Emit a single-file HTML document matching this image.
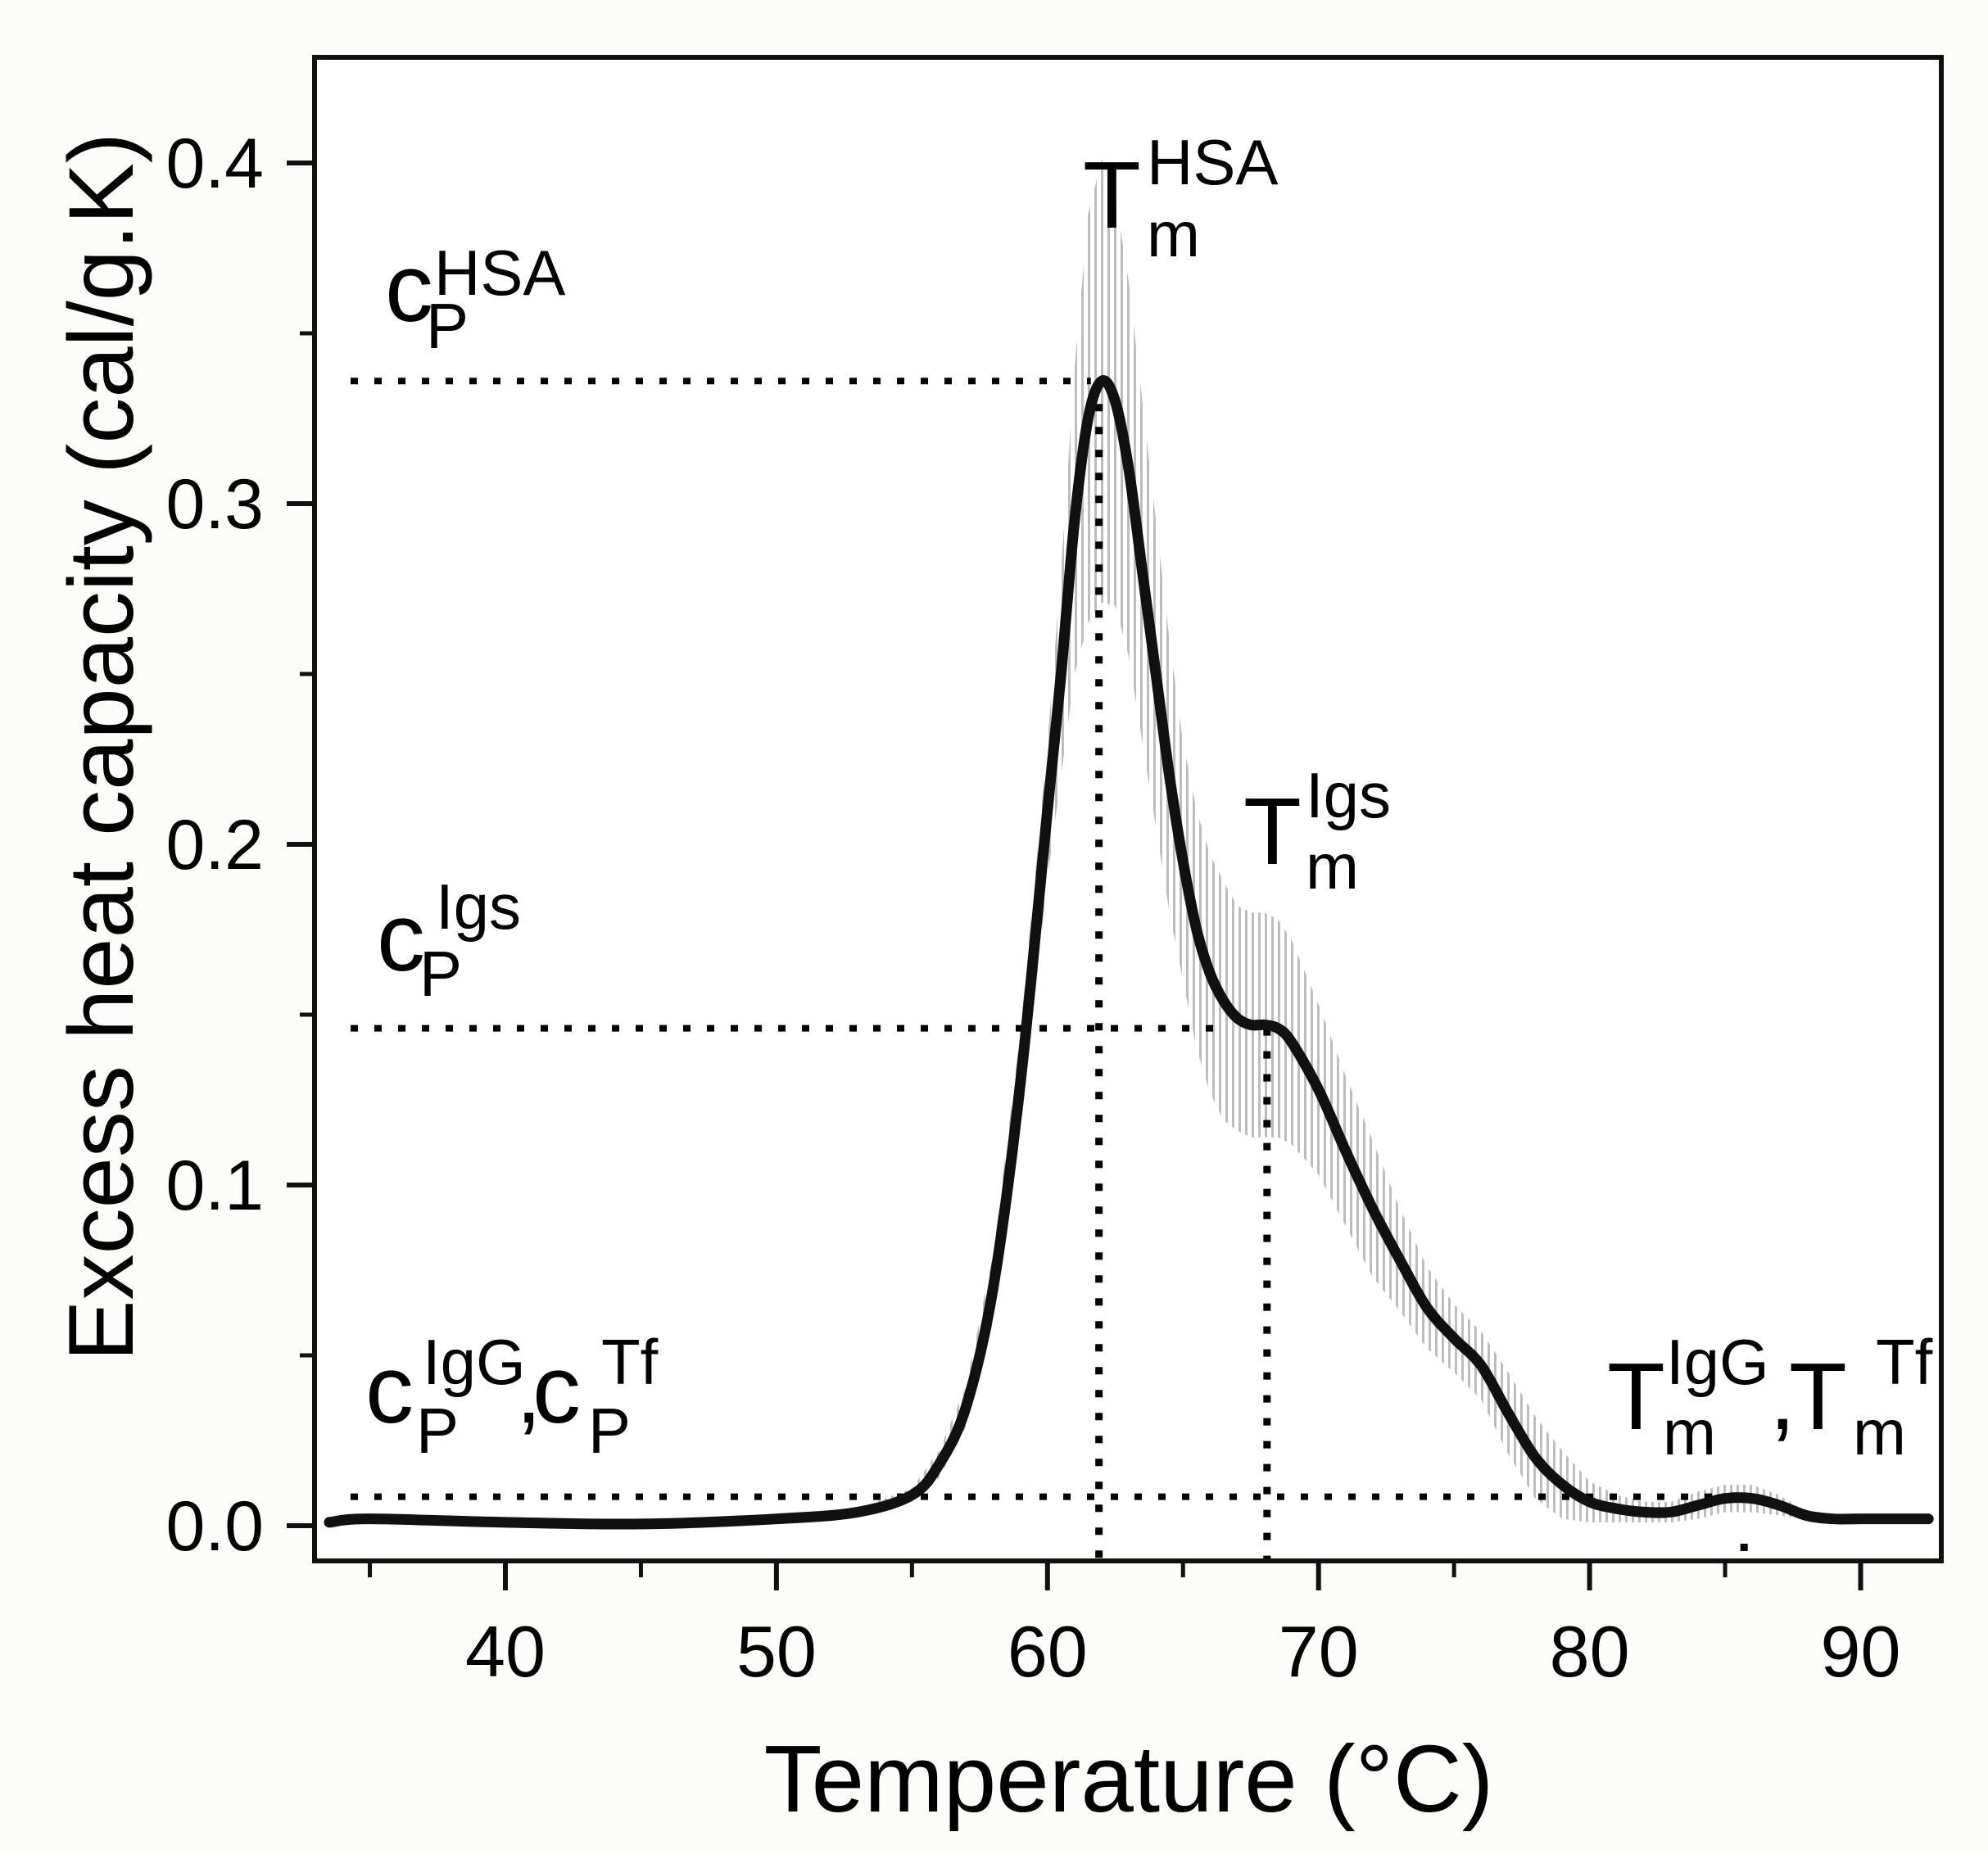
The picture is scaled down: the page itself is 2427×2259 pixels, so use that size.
<!DOCTYPE html>
<html><head><meta charset="utf-8">
<style>
html,body{margin:0;padding:0;background:#fcfcfa;}
svg{display:block;font-family:"Liberation Sans",Arial,sans-serif;}
</style></head>
<body>
<svg id="chart" width="2427" height="2259" viewBox="0 0 2427 2259" xmlns="http://www.w3.org/2000/svg">
<defs>
<pattern id="vbars" patternUnits="userSpaceOnUse" width="8" height="10">
<rect x="0" y="0" width="3" height="10" fill="#bdbdbd"/>
</pattern>
<clipPath id="plotclip"><rect x="384" y="70" width="1986" height="1836"/></clipPath>
</defs>
<rect x="384" y="70" width="1986" height="1836" fill="#ffffff"/>
<g id="errband" clip-path="url(#plotclip)"></g>
<g id="guides"></g>
<g id="curve" clip-path="url(#plotclip)"></g>
<g id="axes"></g>

<g fill="#000">
<text x="470" y="392" font-size="118">c</text>
<text x="520" y="425" font-size="78">P</text>
<text x="530" y="360" font-size="78">HSA</text>
</g>
<g fill="#000">
<text x="1322" y="278" font-size="116">T</text>
<text x="1400" y="313" font-size="78">m</text>
<text x="1400" y="225" font-size="78">HSA</text>
</g>
<g fill="#000">
<text x="460" y="1185" font-size="118">c</text>
<text x="512" y="1216" font-size="78">P</text>
<text x="532" y="1134" font-size="78">Igs</text>
</g>
<g fill="#000">
<text x="1518" y="1055" font-size="116">T</text>
<text x="1594" y="1085" font-size="78">m</text>
<text x="1594" y="998" font-size="78">Igs</text>
</g>
<g fill="#000">
<text x="446" y="1737" font-size="118">c</text>
<text x="508" y="1774" font-size="78">P</text>
<text x="516" y="1690" font-size="78">IgG</text>
<text x="630" y="1737" font-size="112">,</text>
<text x="650" y="1737" font-size="118">c</text>
<text x="718" y="1774" font-size="78">P</text>
<text x="734" y="1690" font-size="78">Tf</text>
</g>
<g fill="#000">
<text x="1962" y="1745" font-size="116">T</text>
<text x="2030" y="1776" font-size="78">m</text>
<text x="2034" y="1690" font-size="78">IgG</text>
<text x="2160" y="1745" font-size="116">,</text>
<text x="2184" y="1745" font-size="116">T</text>
<text x="2262" y="1776" font-size="78">m</text>
<text x="2290" y="1690" font-size="78">Tf</text>
</g>
<text x="1378" y="2212" font-size="116" text-anchor="middle">Temperature (°C)</text>
<text transform="translate(162,912) rotate(-90)" font-size="112" text-anchor="middle">Excess heat capacity (cal/g.K)</text>
</svg>
<script>
const temps = [33.5,35,40,45,50,53,55,56,57,58,59,60,60.5,61,61.5,62,62.5,63,63.5,64,64.5,65,65.5,66,66.5,67,67.5,68,68.5,69,70,71,72,73,74,75,76,77,78,79,80,81,82,83,84,85,86,87,88,89,90,92.5];
const cpValues = [0.001,0.002,0.001,0.0005,0.002,0.004,0.009,0.018,0.035,0.07,0.13,0.21,0.25,0.295,0.325,0.336,0.33,0.31,0.28,0.25,0.22,0.195,0.175,0.162,0.154,0.149,0.147,0.147,0.146,0.142,0.128,0.11,0.093,0.078,0.064,0.055,0.047,0.033,0.02,0.012,0.007,0.005,0.004,0.004,0.006,0.008,0.008,0.006,0.003,0.002,0.002,0.002];
const cpErrors = [0.001,0.001,0.001,0.001,0.001,0.001,0.002,0.004,0.006,0.01,0.015,0.02,0.03,0.045,0.06,0.065,0.06,0.055,0.05,0.045,0.04,0.035,0.035,0.035,0.035,0.033,0.033,0.033,0.032,0.03,0.025,0.022,0.02,0.015,0.012,0.01,0.01,0.012,0.012,0.01,0.006,0.004,0.003,0.003,0.004,0.004,0.004,0.003,0.001,0.001,0.001,0.001];
const xTicks = [40,50,60,70,80,90];
const xMinor = [35,45,55,65,75,85];
const yTicks = [0.0,0.1,0.2,0.3,0.4];
const yMinor = [0.05,0.15,0.25,0.35];
const yTickLabels = ["0.0","0.1","0.2","0.3","0.4"];
const cpMarks = [0.336,0.146,0.0085];
const tmMarks = [61.9,68.1,85.7];

const NS = "http://www.w3.org/2000/svg";
const L=384,R=2370,T=70,B=1906;
function sx(v){return 617+(v-40)*33.09;}
function sy(v){return 1863-v*4160;}
function mk(tag,attrs,parent){const e=document.createElementNS(NS,tag);for(const k in attrs)e.setAttribute(k,attrs[k]);parent.appendChild(e);return e;}
function smooth(pts){
  let d='M'+pts[0][0]+','+pts[0][1];
  for(let i=0;i<pts.length-1;i++){
    const p0=pts[Math.max(0,i-1)],p1=pts[i],p2=pts[i+1],p3=pts[Math.min(pts.length-1,i+2)];
    const c1x=p1[0]+(p2[0]-p0[0])/6,c1y=p1[1]+(p2[1]-p0[1])/6;
    const c2x=p2[0]-(p3[0]-p1[0])/6,c2y=p2[1]-(p3[1]-p1[1])/6;
    d+=' C'+c1x+','+c1y+' '+c2x+','+c2y+' '+p2[0]+','+p2[1];
  }
  return d;
}

const eb=document.getElementById('errband');
let up=temps.map((t,i)=>sx(t)+','+sy(cpValues[i]+cpErrors[i]));
let lo=temps.map((t,i)=>sx(t)+','+sy(cpValues[i]-cpErrors[i])).reverse();
const band=mk('polygon',{points:up.concat(lo).join(' '),fill:'url(#vbars)'},eb);



const g=document.getElementById('guides');
const hEnds=[61.6,66.5,86];
cpMarks.forEach((v,i)=>{
  const l=mk('line',{x1:428,x2:sx(hEnds[i]),y1:sy(v),y2:sy(v),stroke:'#000','stroke-width':8,'stroke-dasharray':'9 20'},g);
  
  
});
tmMarks.forEach((t,i)=>{
  const top = i<2 ? sy(cpMarks[i]) : 1885;
  const l=mk('line',{x1:sx(t),x2:sx(t),y1:top,y2:B,stroke:'#000','stroke-width':9,'stroke-dasharray':'9 19'},g);
  
  
});

const cv=document.getElementById('curve');
const line=mk('path',{d:smooth(temps.map((t,i)=>[sx(t),sy(cpValues[i])])),fill:'none',stroke:'#111','stroke-width':13,'stroke-linejoin':'round','stroke-linecap':'round'},cv);



const ax=document.getElementById('axes');
const fr=mk('rect',{x:L,y:T,width:R-L,height:B-T,fill:'none',stroke:'#111','stroke-width':6},ax);


xTicks.forEach(v=>{
  const t=mk('line',{x1:sx(v),x2:sx(v),y1:B,y2:B+36,stroke:'#111','stroke-width':6},ax);
  
  
  const tx=mk('text',{x:sx(v),y:2047,'font-size':88,'text-anchor':'middle'},ax);
  tx.textContent=v;
  
  
});
xMinor.forEach(v=>{
  const t=mk('line',{x1:sx(v),x2:sx(v),y1:B,y2:B+20,stroke:'#111','stroke-width':5},ax);
  
  
});
yTicks.forEach((v,i)=>{
  const t=mk('line',{x1:L-34,x2:L,y1:sy(v),y2:sy(v),stroke:'#111','stroke-width':6},ax);
  
  
  const tx=mk('text',{x:322,y:sy(v)+30,'font-size':86,'text-anchor':'end'},ax);
  tx.textContent=yTickLabels[i];
  
  
});
yMinor.forEach(v=>{
  const t=mk('line',{x1:L-18,x2:L,y1:sy(v),y2:sy(v),stroke:'#111','stroke-width':5},ax);
  
  
});
</script>
</body></html>
